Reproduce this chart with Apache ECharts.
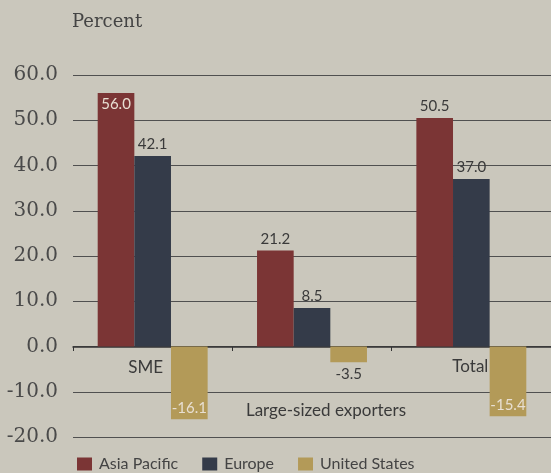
<!DOCTYPE html>
<html><head><meta charset="utf-8">
<script src="https://cdn.jsdelivr.net/npm/echarts@6/dist/echarts.min.js"></script>
<style>html,body{margin:0;padding:0;background:#cac7bc;}#c{width:551px;height:473px;}</style>
</head><body><div id="c"></div>
<script>
const categories = ['SME', 'Large-sized exporters', 'Total'];
const asiaPacific = [56.0, 21.2, 50.5];
const europe = [42.1, 8.5, 37.0];
const unitedStates = [-16.1, -3.5, -15.4];
const seriesNames = ['Asia Pacific', 'Europe', 'United States'];
const yTicks = { min: -20, max: 60, interval: 10 };

const chart = echarts.init(document.getElementById('c'));
const lblFont = 'Lato';
const dark = '#3a3a3a', light = '#e8dfd2';
function dataWithLabels(vals, inside) {
  return vals.map((v, i) => {
    const ins = inside[i];
    let pos = v >= 0 ? (ins ? 'insideTop' : 'top') : (ins ? 'insideBottom' : 'bottom');
    return { value: v, label: { position: pos, color: ins ? light : dark } };
  });
}
const catLabelStyles = [
  { padding: [2, 14, 0, 0] },
  { padding: [45, 0, 0, 28] },
  { padding: [1, 2, 0, 0] }
];
chart.setOption({
  backgroundColor: '#cac7bc',
  animation: false,
  grid: { left: 73, right: -8, top: 75, bottom: 36 },
  title: { text: 'Percent', left: 72, top: 13, padding: 0, textStyle: { fontFamily: 'DejaVu Serif', fontSize: 18, fontWeight: 'normal', color: '#444' } },
  legend: {
    left: 77, top: 456, padding: 0, itemWidth: 15, itemHeight: 13, itemGap: 24,
    icon: 'rect',
    textStyle: { fontFamily: lblFont, fontSize: 16, color: '#444', padding: [0, 0, 0, 2] },
    data: seriesNames
  },
  xAxis: {
    type: 'category',
    data: categories.map((c, i) => ({ value: c, textStyle: catLabelStyles[i] })),
    offset: -90,
    axisLine: { onZero: false, lineStyle: { color: '#333', width: 1.5 } },
    axisTick: { show: true, length: 4, lineStyle: { color: '#333' } },
    axisLabel: { interval: 0, fontFamily: lblFont, fontSize: 17, color: '#3a3a3a', margin: 10 }
  },
  yAxis: {
    type: 'value', min: yTicks.min, max: yTicks.max, interval: yTicks.interval,
    axisLine: { show: false }, axisTick: { show: false },
    axisLabel: { formatter: v => v.toFixed(1), fontFamily: 'DejaVu Serif', fontSize: 20, color: '#4a4a4a', margin: 15 },
    splitLine: { lineStyle: { color: '#505050', width: 1 } }
  },
  series: [
    { name: seriesNames[0], type: 'bar', barCategoryGap: '31%', barGap: '0%', itemStyle: { color: '#7b3535' },
      label: { show: true, formatter: p => p.value.toFixed(1), fontFamily: lblFont, fontSize: 15, distance: 4 },
      data: dataWithLabels(asiaPacific, [true, false, false]) },
    { name: seriesNames[1], type: 'bar', barGap: '0%', itemStyle: { color: '#343b49' },
      label: { show: true, formatter: p => p.value.toFixed(1), fontFamily: lblFont, fontSize: 15, distance: 4 },
      data: dataWithLabels(europe, [false, false, false]) },
    { name: seriesNames[2], type: 'bar', barGap: '0%', itemStyle: { color: '#b39a58' },
      label: { show: true, formatter: p => p.value.toFixed(1), fontFamily: lblFont, fontSize: 15, distance: 4 },
      data: dataWithLabels(unitedStates, [true, false, true]) }
  ]
});
</script></body></html>
